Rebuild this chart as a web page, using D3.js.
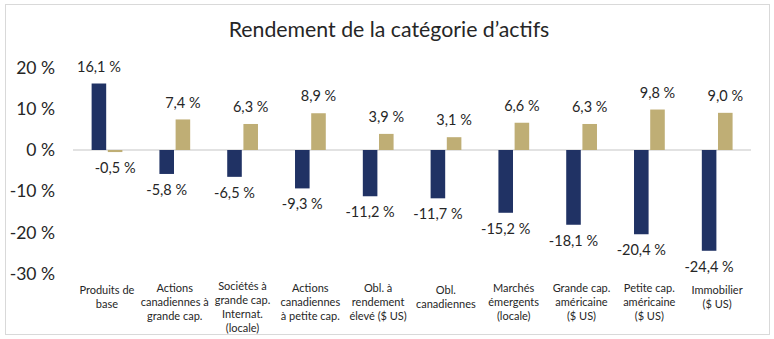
<!DOCTYPE html>
<html>
<head>
<meta charset="utf-8">
<script src="https://cdn.jsdelivr.net/npm/d3@7"></script>
<style>
  html, body { margin: 0; padding: 0; background: #fff; }
  svg { display: block; font-family: Lato, "Open Sans", sans-serif; }
</style>
</head>
<body>
<svg id="chart" width="774" height="339"></svg>
<script>
"use strict"

// catégories, une ligne par entrée pour les étiquettes de l'axe
const categories = [
    ["Produits de", "base"],
    ["Actions", "canadiennes à", "grande cap."],
    ["Sociétés à", "grande cap.", "Internat.", "(locale)"],
    ["Actions", "canadiennes", "à petite cap."],
    ["Obl. à", "rendement", "élevé ($ US)"],
    ["Obl.", "canadiennes"],
    ["Marchés", "émergents", "(locale)"],
    ["Grande cap.", "américaine", "($ US)"],
    ["Petite cap.", "américaine", "($ US)"],
    ["Immobilier", "($ US)"]
]
const seriesNavy = [16.1, -5.8, -6.5, -9.3, -11.2, -11.7, -15.2, -18.1, -20.4, -24.4]
const seriesGold = [-0.5, 7.4, 6.3, 8.9, 3.9, 3.1, 6.6, 6.3, 9.8, 9.0]
const yTicks = [20, 10, 0, -10, -20, -30]

const colors = ["#203264", "#bfae75"]
// virgule décimale et trait d'union simple pour le signe moins
const fmt = v => d3.format(".1f")(v).replace(".", ",").replace("−", "-") + " %"

const svg = d3.select("#chart")

// cadre gris clair
svg.append("rect")
    .attr("x", 5.5).attr("y", 4.5)
    .attr("width", 764).attr("height", 330)
    .attr("fill", "none")
    .attr("stroke", "#d9d9d9")

svg.append("text")
    .attr("x", 389).attr("y", 36.5)
    .attr("text-anchor", "middle")
    .attr("font-size", 21.3)
    .attr("fill", "#262626")
    .text("Rendement de la catégorie d’actifs")

const keys = categories.map((c, i) => i)
const x = d3.scaleBand().domain(keys).range([73, 751])
const x1 = d3.scaleBand().domain([0, 1]).range([17, 51]).padding(0.1)
const y = d3.scaleLinear().domain([-30, 20]).range([273.9, 67.4])

// étiquettes de l'axe des y
svg.append("g")
    .selectAll("text")
    .data(yTicks)
    .join("text")
    .attr("x", 55)
    .attr("y", d => y(d))
    .attr("dy", "0.35em")
    .attr("text-anchor", "end")
    .attr("font-size", 17.5)
    .attr("fill", "#262626")
    .text(d => d + " %")

// ligne du zéro
svg.append("line")
    .attr("x1", 73).attr("x2", 751)
    .attr("y1", y(0)).attr("y2", y(0))
    .attr("stroke", "#d9d9d9")
    .attr("stroke-width", 1.3)

const rows = keys.map(i => [seriesNavy[i], seriesGold[i]])

const groups = svg.append("g")
    .selectAll("g")
    .data(rows)
    .join("g")
    .attr("transform", (d, i) => `translate(${x(i)},0)`)

groups.selectAll("rect")
    .data(d => d)
    .join("rect")
    .attr("x", (d, j) => x1(j))
    .attr("width", x1.bandwidth())
    .attr("y", d => y(Math.max(0, d)))
    .attr("height", d => Math.abs(y(d) - y(0)))
    .attr("fill", (d, j) => colors[j])

groups.selectAll("text.val")
    .data(d => d)
    .join("text")
    .attr("class", "val")
    .attr("x", (d, j) => x1(j) + x1.bandwidth() / 2)
    .attr("y", d => d >= 0 ? y(d) - 17 : y(d) + 16)
    .attr("dy", "0.35em")
    .attr("text-anchor", "middle")
    .attr("font-size", 14.5)
    .attr("fill", "#262626")
    .text(fmt)

// étiquettes des catégories
svg.append("g")
    .selectAll("text")
    .data(categories)
    .join("text")
    .attr("x", (d, i) => x(i) + x.bandwidth() / 2)
    .attr("y", d => 290 - Math.max(0, d.length - 2) * 2)
    .attr("text-anchor", "middle")
    .attr("font-size", 11)
    .attr("fill", "#262626")
    .selectAll("tspan")
    .data(d => d)
    .join("tspan")
    .attr("x", function () { return this.parentNode.getAttribute("x") })
    .attr("dy", (d, k) => k === 0 ? "0.35em" : 14)
    .text(d => d)
</script>
</body>
</html>
